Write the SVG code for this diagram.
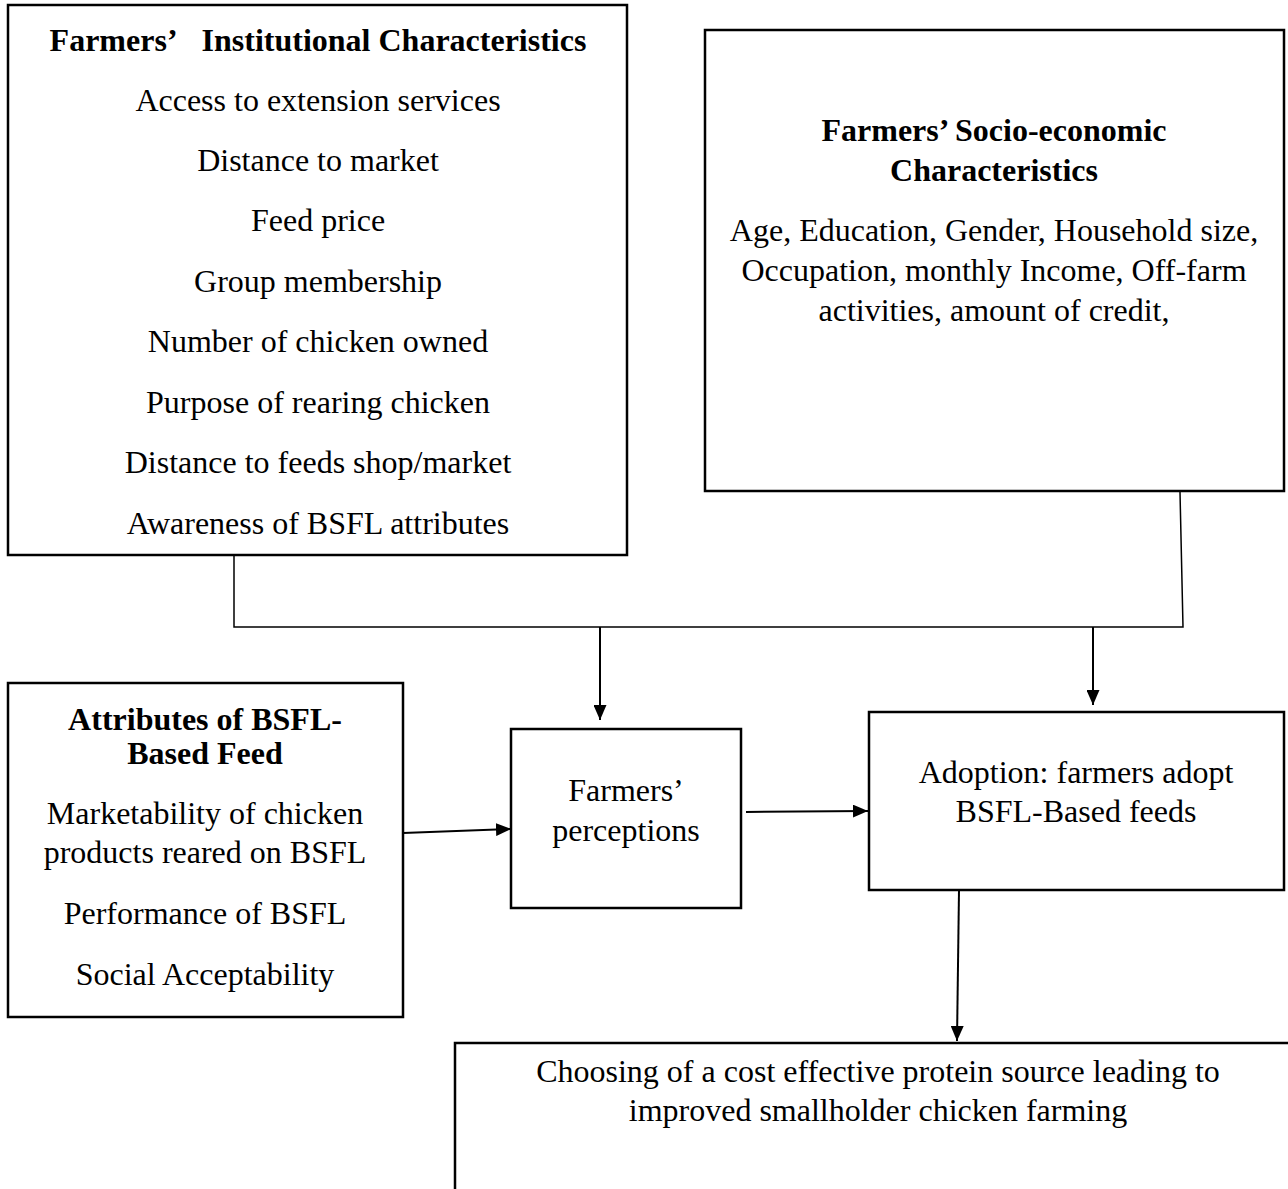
<svg xmlns="http://www.w3.org/2000/svg" width="1288" height="1189" viewBox="0 0 1288 1189">
<style>
.box{fill:#fff;stroke:#000;stroke-width:2.5}
text{font-family:"Liberation Serif","Times New Roman",serif;font-size:32px;fill:#000;text-anchor:middle}
.b{font-weight:bold}
.con{fill:none;stroke:#000;stroke-width:1.5}
.arr{fill:none;stroke:#000;stroke-width:2;marker-end:url(#ah)}
</style>
<defs>
<marker id="ah" viewBox="0 0 15 13" refX="15" refY="6.5" markerWidth="15" markerHeight="13" markerUnits="userSpaceOnUse" orient="auto">
<path d="M0,0 L15,6.5 L0,13 z" fill="#000"/>
</marker>
</defs>
<rect width="1288" height="1189" fill="#fff"/>
<g id="institutional">
<rect class="box" x="8" y="5" width="619" height="550"/>
<text class="b" x="318" y="51">Farmers’&#160;&#160; Institutional Characteristics</text>
<text x="318" y="111">Access to extension services</text>
<text x="318" y="171">Distance to market</text>
<text x="318" y="231">Feed price</text>
<text x="318" y="292">Group membership</text>
<text x="318" y="352">Number of chicken owned</text>
<text x="318" y="413">Purpose of rearing chicken</text>
<text x="318" y="473">Distance to feeds shop/market</text>
<text x="318" y="534">Awareness of BSFL attributes</text>
</g>
<g id="socioeconomic">
<rect class="box" x="705" y="30" width="579" height="461"/>
<text class="b" x="994" y="141">Farmers’ Socio-economic</text>
<text class="b" x="994" y="181">Characteristics</text>
<text x="994" y="241">Age, Education, Gender, Household size,</text>
<text x="994" y="281">Occupation, monthly Income, Off-farm</text>
<text x="994" y="321">activities, amount of credit,</text>
</g>
<g id="attributes">
<rect class="box" x="8" y="683" width="395" height="334"/>
<text class="b" x="205" y="730">Attributes of BSFL-</text>
<text class="b" x="205" y="764">Based Feed</text>
<text x="205" y="824">Marketability of chicken</text>
<text x="205" y="863">products reared on BSFL</text>
<text x="205" y="924">Performance of BSFL</text>
<text x="205" y="985">Social Acceptability</text>
</g>
<g id="perceptions">
<rect class="box" x="511" y="729" width="230" height="179"/>
<text x="626" y="801">Farmers’</text>
<text x="626" y="841">perceptions</text>
</g>
<g id="adoption">
<rect class="box" x="869" y="712" width="415" height="178"/>
<text x="1076" y="783">Adoption: farmers adopt</text>
<text x="1076" y="822">BSFL-Based feeds</text>
</g>
<g id="outcome">
<rect class="box" x="455" y="1043" width="840" height="160"/>
<text x="878" y="1082">Choosing of a cost effective protein source leading to</text>
<text x="878" y="1121">improved smallholder chicken farming</text>
</g>
<g id="connectors">
<path class="con" d="M234,556 V627 H1183 L1180,492"/>
<line class="arr" x1="600" y1="627" x2="600" y2="720"/>
<line class="arr" x1="1093" y1="627" x2="1093" y2="705"/>
<line class="arr" x1="403" y1="833" x2="511" y2="829"/>
<line class="arr" x1="746" y1="812" x2="868" y2="811"/>
<line class="arr" x1="959" y1="890" x2="957" y2="1041"/>
</g>
</svg>
